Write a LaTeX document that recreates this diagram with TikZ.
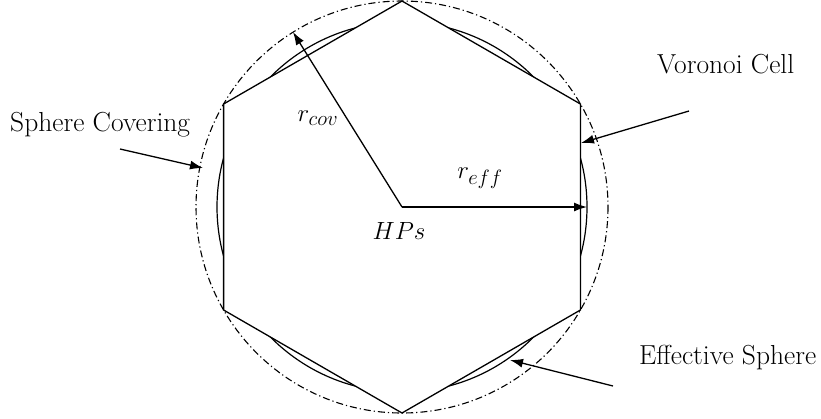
\documentclass[tikz,border=0pt]{standalone}
\usetikzlibrary{arrows.meta}
\begin{document}
\begin{tikzpicture}[x=1pt,y=-1pt,
  lbl/.style={font=\fontsize{27.5}{33}\selectfont, inner sep=0pt},
  mlbl/.style={font=\fontsize{29}{35}\selectfont, inner sep=0pt},
  arr/.style={line width=1.3pt,-{Latex[length=13pt,width=9pt]}},
  hexline/.style={line width=1.3pt, line join=miter},
  cover/.style={line width=1.1pt, dash pattern=on 7pt off 3pt on 1.2pt off 3pt},
  eff/.style={line width=1.2pt}]
\useasboundingbox (0,0) rectangle (821,418);
\coordinate (O) at (402,207);
% hexagon (Voronoi cell) corners
\coordinate (v1) at (402,1);
\coordinate (v2) at (580.4,104);
\coordinate (v3) at (580.4,310);
\coordinate (v4) at (402,413);
\coordinate (v5) at (223.6,310);
\coordinate (v6) at (223.6,104);
% covering circle
\draw[cover] (O) circle[radius=206];
% effective sphere, shown only outside the cell
\draw[eff] (O) circle[radius=185];
\fill[white] (v1) -- (v2) -- (v3) -- (v4) -- (v5) -- (v6) -- cycle;
\draw[hexline] (v1) -- (v2) -- (v3) -- (v4) -- (v5) -- (v6) -- cycle;
% radii
\coordinate (rc) at (293,32);
\coordinate (re) at (587,207);
\draw[arr] (O) -- (rc);
\draw[arr] (O) -- (re);
% labels
\node[mlbl] (hps) at (399,231) {$HPs$};
\node[lbl] (rcov) at (318,118) {$r_{cov}$};
\node[lbl] (reff) at (480,178) {$r_{eff}$};
\node[lbl,anchor=west] (sc) at (10,125) {Sphere Covering};
\node[lbl,anchor=west] (vc) at (657,64) {Voronoi Cell};
\node[lbl,anchor=west] (es) at (639,358) {Effective Sphere};
% pointer arrows
\coordinate (sct) at (120,149);
\coordinate (sch) at (203,168);
\coordinate (vct) at (689,111);
\coordinate (vch) at (581,143);
\coordinate (est) at (613,386);
\coordinate (esh) at (510,360);
\draw[arr] (sct) -- (sch);
\draw[arr] (vct) -- (vch);
\draw[arr] (est) -- (esh);
\end{tikzpicture}
\end{document}
